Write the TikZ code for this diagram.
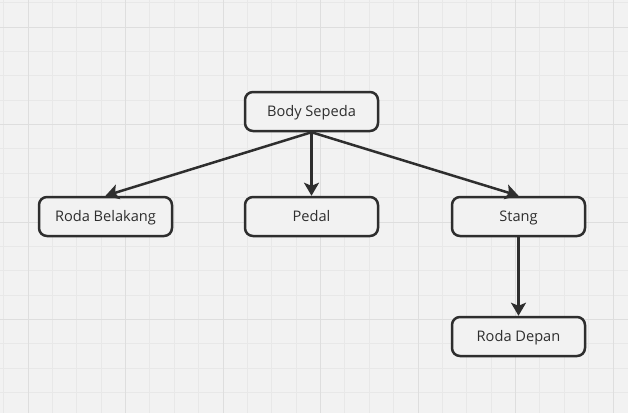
\documentclass[tikz,border=0pt]{standalone}
\usepackage{fontspec}
\setmainfont{Open Sans}
\usetikzlibrary{arrows.meta, positioning}

\definecolor{paper}{HTML}{F2F2F2}
\definecolor{gridminor}{HTML}{E8E8E8}
\definecolor{gridmajor}{HTML}{DEDEDE}
\definecolor{ink}{HTML}{2E2E2E}

\tikzset{
  part/.style={draw=ink, fill=paper, line width=2.5pt, rounded corners=8pt,
    minimum width=133pt, minimum height=39pt, text height=11pt, text depth=1pt,
    text=ink, font=\fontsize{14.6}{16}\selectfont},
  link/.style={draw=ink, line width=2.5pt, -{Stealth[length=13pt, width=15pt, inset=3pt]}}
}

\begin{document}
\begin{tikzpicture}[x=1pt, y=-1pt]

\fill [paper] (0,0) rectangle (628,413);
\useasboundingbox (0,0) rectangle (628,413);

\foreach \i in {-1,0,...,25}
{
  \draw [gridminor, line width=0.8pt] ({28+24.375*\i},0) -- ({28+24.375*\i},413);
}
\foreach \j in {-1,0,...,17}
{
  \draw [gridminor, line width=0.8pt] (0,{27+24.375*\j}) -- (628,{27+24.375*\j});
}
\foreach \i in {0,1,...,6}
{
  \draw [gridmajor, line width=1pt] ({28+97.5*\i},0) -- ({28+97.5*\i},413);
}
\foreach \j in {0,1,...,4}
{
  \draw [gridmajor, line width=1pt] (0,{27+97.5*\j}) -- (628,{27+97.5*\j});
}

\node [part] (body)     at (311.5,111.5) {Body Sepeda};
\node [part] (belakang) at (105.5,216.5) {Roda Belakang};
\node [part] (pedal)    at (311.5,216.5) {Pedal};
\node [part] (stang)    at (518.5,216.5) {Stang};
\node [part] (depan)    at (518.5,336.5) {Roda Depan};

\draw [link] (body.south) -- (belakang.north);
\draw [link] (body.south) -- (pedal.north);
\draw [link] (body.south) -- (stang.north);
\draw [link] (stang.south) -- (depan.north);

\end{tikzpicture}
\end{document}
